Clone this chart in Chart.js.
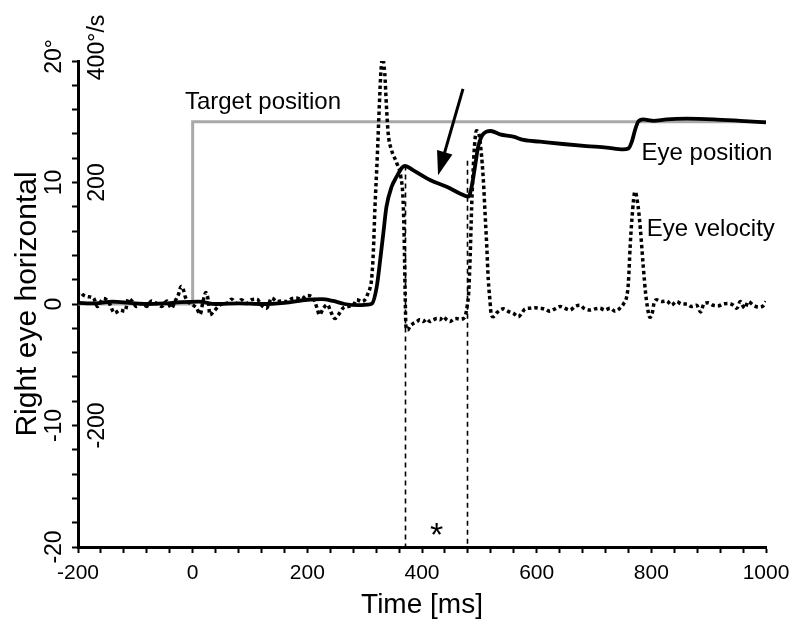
<!DOCTYPE html>
<html>
<head>
<meta charset="utf-8">
<script src="https://cdn.jsdelivr.net/npm/chart.js@4.4.1/dist/chart.umd.min.js"></script>
<style>
  html, body { margin: 0; padding: 0; background: #fff; }
  #wrap { width: 800px; height: 631px; }
</style>
</head>
<body>
<div id="wrap"><canvas id="chart" width="800" height="631"></canvas></div>
<script>
const FONT = "'Liberation Sans', Arial, Helvetica, sans-serif";

// ── Data ─────────────────────────────────────────────────────────────────────

// target step (deg)
const targetTime = [-200, 0, 0, 1000];
const targetDeg = [0, 0, 15, 15];

// eye position (deg)
const posTime = [-200, -170, -140, -110, -80, -50, -20, 10, 40, 80, 120, 160, 200, 225, 245, 265, 290, 305,
  313, 321, 327, 332.5, 338, 347, 356, 364.6, 370, 385, 414, 443, 466, 481, 486.6, 492.4, 498, 504, 513, 520,
  536, 559, 577, 606, 646, 687, 722, 751, 760, 766, 771.5, 777, 786, 795, 803, 827, 862, 908, 955, 1000];
const posDeg = [0.1, 0.05, 0.2, 0.1, 0.0, 0.05, 0.15, 0.2, 0.0, 0.05, 0.0, 0.1, 0.35, 0.4, 0.25, 0.0, -0.1, -0.05,
  0.05, 1.4, 3.6, 5.8, 8.0, 9.65, 10.5, 11.2, 11.36, 11.0, 10.2, 9.65, 9.1, 8.83, 9.65, 11.3, 12.95, 13.8, 14.2, 14.24,
  13.96, 13.77, 13.5, 13.36, 13.17, 13.0, 12.87, 12.73, 12.8, 13.36, 14.3, 15.0, 15.2, 15.14, 15.08, 15.2, 15.25, 15.2, 15.08, 14.95];

// eye velocity (deg/s)
const velTime = [-200, -197, -191, -182, -173, -166, -156, -147, -136, -127, -118, -112, -106, -98, -89, -80, -72, -63,
  -54, -45, -37, -31, -25, -20, -16, -13, -8, 1, 7, 13, 18, 23, 27, 30, 36, 45, 53, 59, 68, 77, 85, 94, 103, 112,
  120, 129, 138, 147, 155, 164, 173, 181, 190, 199, 208, 213, 217, 221, 228, 235, 241, 248, 254, 262, 271, 280,
  286, 295, 302, 306, 309, 312, 315, 318, 322, 325.5, 328.5, 331, 335, 338, 341, 347, 356, 363, 367, 369, 370.5,
  372, 375, 379, 385, 391, 396, 402, 408, 414, 420, 426, 431, 437, 443, 449, 455, 460, 466, 472, 476, 479, 481.5,
  484, 486.6, 489.5, 492.4, 495, 499, 503, 507, 510, 513, 515.6, 518.6, 520, 524, 530, 536, 542, 550, 559, 568,
  574, 580, 588, 597, 606, 614, 623, 632, 641, 649, 658, 667, 675, 684, 693, 702, 710, 719, 728, 737, 745, 752,
  757, 760, 763, 766, 771.5, 777, 781, 786, 790, 793, 797.6, 802, 804.6, 809, 818, 827, 835, 844, 853, 862, 870,
  879, 886, 892, 899, 908, 917, 925, 934, 943, 949, 955, 963, 969, 978, 987, 995, 1000];
const velDps = [15, 20, 15, 12, 10, -4, 9, 4, -15, -10, -12, 9, 5, -4, 1, -4, 5, 1,
  -4, 5, -7, 4, 15, 29, 23, 12, 4, -2, -7, -17, 4, 19, 7, -18, -13, -4, 1, 1, 8, 1, 7, 1, 7, 8,
  -2, -7, 10, 4, 5, 4, 9, 10, 8, 14, 12, 4, -7, -18, -7, -1, -13, -24, -18, -7, -4, -2,
  7, 4, 9, 18, 25, 40, 83, 160, 242, 325, 385, 404, 380, 325, 281, 253, 232, 210, 171, 105, 23,
  -37, -43, -37, -32, -29, -26, -29, -25, -29, -26, -24, -26, -21, -26, -29, -25, -24, -25, -24, -18, -2, 20,
  78, 160, 226, 270, 285, 281, 253, 204, 149, 94, 40, 5, -12, -21, -15, -10, -8, -12, -15, -21,
  -15, -8, -7, -6, -7, -8, -12, -8, -4, -7, -10, -4, -2, -8, -10, -8, -7, -10, -7, -12, -7, 1,
  12, 35, 94, 138, 185, 160, 122, 61, 18, -4, -22, -13, 1, 7, 4, 5, -2, 4, 0, 0, -4,
  -2, -13, 1, 2, -2, -3, 0, 1, -2, -7, 4, -7, 4, -2, -5, -3, 4];

// rotated tick labels on the left
const posTickValues = [-20, -10, 0, 10, 20];
const posTickLabels = ['-20', '-10', '0', '10', '20'];
const posTickUnits = ['', '', '', '', '°'];
const velTickValues = [-200, 200, 400];
const velTickLabels = ['-200', '200', '400'];
const velTickUnits = ['', '', '°/s'];

// annotations (data units: ms, deg)
const markerTimes = [370, 478.5];
const markerTops = [11.4, 11.8];
const arrowFrom = [471.5, 17.7];
const arrowTo = [428, 10.6];
const textLabels = ['Target position', 'Eye position', 'Eye velocity'];
const textTimes = [-13.5, 783, 792];
const textDegs = [16.6, 12.4, 6.15];
const starTime = 414;
const starDeg = -19.15;

const zip = (xs, ys) => xs.map((v, i) => ({ x: v, y: ys[i] }));

// ── Overlay: left labels, markers, arrow, texts ──────────────────────────────

function drawRotated(ctx, text, unit, cx, cy) {
  ctx.save();
  ctx.translate(cx, cy);
  ctx.rotate(-Math.PI / 2);
  const w = ctx.measureText(text).width;
  ctx.textAlign = 'left';
  ctx.textBaseline = 'middle';
  ctx.fillText(text + unit, -w / 2, 0);
  ctx.restore();
}

const overlay = {
  id: 'overlay',
  afterDraw(chart) {
    const { ctx, chartArea: area, scales: { x, y, yv } } = chart;
    ctx.save();
    ctx.fillStyle = '#000';
    ctx.strokeStyle = '#000';

    ctx.font = `23px ${FONT}`;
    posTickValues.forEach((v, i) => drawRotated(ctx, posTickLabels[i], posTickUnits[i], area.left - 23, y.getPixelForValue(v)));
    velTickValues.forEach((v, i) => drawRotated(ctx, velTickLabels[i], velTickUnits[i], area.left + 20, yv.getPixelForValue(v)));

    // dashed interval markers
    ctx.lineWidth = 1.6;
    ctx.setLineDash([5, 4]);
    markerTimes.forEach((t, i) => {
      const px = Math.round(x.getPixelForValue(t)) + 0.5;
      ctx.beginPath();
      ctx.moveTo(px, y.getPixelForValue(markerTops[i]));
      ctx.lineTo(px, area.bottom);
      ctx.stroke();
    });
    ctx.setLineDash([]);

    // arrow
    const fx = x.getPixelForValue(arrowFrom[0]), fy = y.getPixelForValue(arrowFrom[1]);
    const tx = x.getPixelForValue(arrowTo[0]), ty = y.getPixelForValue(arrowTo[1]);
    const ang = Math.atan2(ty - fy, tx - fx);
    const head = 24, half = 8;
    const bx = tx - head * Math.cos(ang), by = ty - head * Math.sin(ang);
    ctx.lineWidth = 3;
    ctx.beginPath();
    ctx.moveTo(fx, fy);
    ctx.lineTo(bx + 2 * Math.cos(ang), by + 2 * Math.sin(ang));
    ctx.stroke();
    ctx.beginPath();
    ctx.moveTo(tx, ty);
    ctx.lineTo(bx + half * Math.sin(ang), by - half * Math.cos(ang));
    ctx.lineTo(bx - half * Math.sin(ang), by + half * Math.cos(ang));
    ctx.closePath();
    ctx.fill();

    // text labels
    ctx.font = `24px ${FONT}`;
    ctx.textAlign = 'left';
    ctx.textBaseline = 'middle';
    textLabels.forEach((t, i) => {
      ctx.fillText(t, x.getPixelForValue(textTimes[i]), y.getPixelForValue(textDegs[i]));
    });
    ctx.font = `34px ${FONT}`;
    ctx.textBaseline = 'middle';
    ctx.fillText('*', x.getPixelForValue(starTime), y.getPixelForValue(starDeg));
    ctx.restore();
  }
};

// ── Chart ────────────────────────────────────────────────────────────────────

const axisBorder = { display: true, width: 3, color: '#000' };
const axisGrid = { drawOnChartArea: false, drawTicks: true, tickLength: 6, tickWidth: 2, tickColor: '#000' };

new Chart(document.getElementById('chart'), {
  type: 'line',
  data: {
    datasets: [
      {
        label: 'Eye position',
        data: zip(posTime, posDeg),
        yAxisID: 'y',
        borderColor: '#000',
        borderWidth: 3.8,
        pointRadius: 0,
        cubicInterpolationMode: 'monotone',
        order: 0,
      },
      {
        label: 'Eye velocity',
        data: zip(velTime, velDps),
        yAxisID: 'yv',
        borderColor: '#000',
        borderWidth: 3.5,
        borderDash: [3.5, 3],
        pointRadius: 0,
        cubicInterpolationMode: 'monotone',
        order: 1,
      },
      {
        label: 'Target position',
        data: zip(targetTime, targetDeg),
        yAxisID: 'y',
        borderColor: '#a9a9a9',
        borderWidth: 3,
        pointRadius: 0,
        tension: 0,
        order: 2,
      },
    ],
  },
  options: {
    responsive: false,
    animation: false,
    devicePixelRatio: 1,
    layout: { padding: { top: 61, right: 34, left: 0, bottom: 0 } },
    plugins: { legend: { display: false }, tooltip: { enabled: false } },
    scales: {
      x: {
        type: 'linear',
        min: -200,
        max: 1000,
        afterFit: (s) => { s.height = 84; },
        border: axisBorder,
        grid: axisGrid,
        ticks: {
          stepSize: 40,
          autoSkip: false,
          maxRotation: 0,
          padding: 8,
          color: '#000',
          font: { family: FONT, size: 21 },
          callback: (v) => (v % 200 === 0 ? String(v) : ''),
        },
        title: {
          display: true,
          text: 'Time [ms]',
          color: '#000',
          font: { family: FONT, size: 28 },
          padding: { top: 0, bottom: 9 },
        },
      },
      y: {
        min: -20,
        max: 20,
        afterFit: (s) => { s.width = 78; },
        border: axisBorder,
        grid: axisGrid,
        ticks: { display: false, stepSize: 2 },
        title: {
          display: true,
          text: 'Right eye horizontal',
          color: '#000',
          font: { family: FONT, size: 30 },
          padding: { top: 10, bottom: 0 },
        },
      },
      yv: { display: false, min: -400, max: 400 },
    },
  },
  plugins: [overlay],
});
</script>
</body>
</html>
